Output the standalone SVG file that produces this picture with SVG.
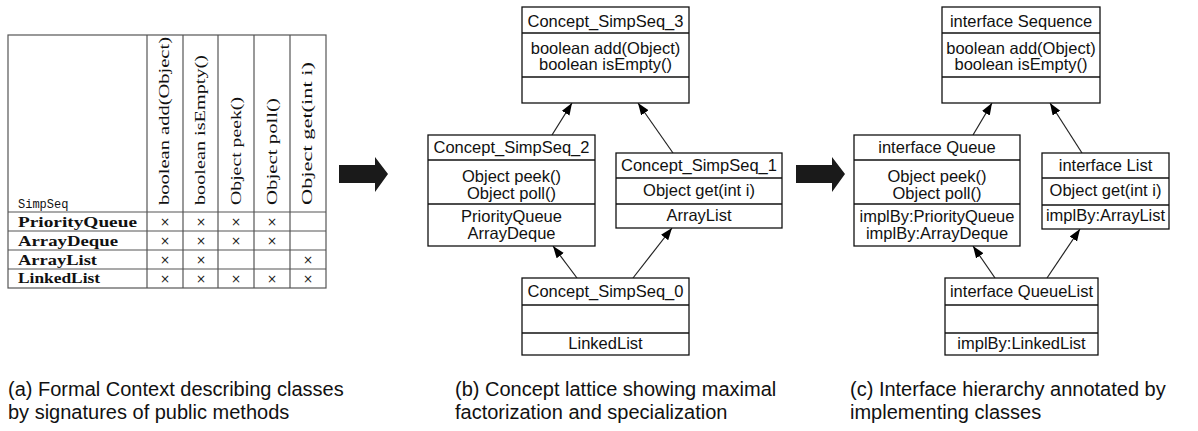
<svg xmlns="http://www.w3.org/2000/svg" width="1198" height="431" viewBox="0 0 1198 431">
<style>
.bg{fill:#fff}
.box{fill:#fff;stroke:#111;stroke-width:1.3}
.sep{stroke:#111;stroke-width:1.3}
.t{font-family:"Liberation Sans",Arial,sans-serif;font-size:16.5px;fill:#111;text-anchor:middle}
.grid{fill:none;stroke:#555;stroke-width:1.2}
.hdr{font-family:"Liberation Serif","Times New Roman",serif;font-size:15px;fill:#111}
.row{font-family:"Liberation Serif","Times New Roman",serif;font-size:15px;font-weight:bold;fill:#111}
.mono{font-family:"Liberation Mono","Courier New",monospace;font-size:12px;fill:#111}
.x{font-family:"DejaVu Sans",sans-serif;font-size:12px;fill:#222;text-anchor:middle}
.cap{font-family:"Liberation Sans",Arial,sans-serif;font-size:20px;fill:#111}
.conn{stroke:#222;stroke-width:1.2;fill:none;marker-end:url(#ah)}
.big{fill:#1a1a1a}
</style>
<defs>
<marker id="ah" markerUnits="userSpaceOnUse" markerWidth="13" markerHeight="10" refX="12" refY="4.5" orient="auto">
<path d="M0,0 L12,4.5 L0,9 z" fill="#000"/>
</marker>
</defs>
<rect class="bg" x="0" y="0" width="1198" height="431"/>

<g id="context-table">
<rect class="grid" x="8" y="35" width="318" height="253"/>
<line class="grid" x1="147" y1="35" x2="147" y2="288"/>
<line class="grid" x1="183" y1="35" x2="183" y2="288"/>
<line class="grid" x1="218" y1="35" x2="218" y2="288"/>
<line class="grid" x1="254" y1="35" x2="254" y2="288"/>
<line class="grid" x1="290" y1="35" x2="290" y2="288"/>
<line class="grid" x1="8" y1="212" x2="326" y2="212"/>
<line class="grid" x1="8" y1="231" x2="326" y2="231"/>
<line class="grid" x1="8" y1="250" x2="326" y2="250"/>
<line class="grid" x1="8" y1="269" x2="326" y2="269"/>
<text class="hdr" transform="translate(169,205) rotate(-90)" textLength="168" lengthAdjust="spacingAndGlyphs">boolean add(Object)</text>
<text class="hdr" transform="translate(205,205) rotate(-90)" textLength="150" lengthAdjust="spacingAndGlyphs">boolean isEmpty()</text>
<text class="hdr" transform="translate(240.5,205) rotate(-90)" textLength="108" lengthAdjust="spacingAndGlyphs">Object peek()</text>
<text class="hdr" transform="translate(276.5,205) rotate(-90)" textLength="107" lengthAdjust="spacingAndGlyphs">Object poll()</text>
<text class="hdr" transform="translate(312,205) rotate(-90)" textLength="143" lengthAdjust="spacingAndGlyphs">Object get(int i)</text>
<text class="mono" x="18" y="208">SimpSeq</text>
<text class="row" x="18" y="227" textLength="119" lengthAdjust="spacingAndGlyphs">PriorityQueue</text>
<text class="row" x="18" y="245.5" textLength="100" lengthAdjust="spacingAndGlyphs">ArrayDeque</text>
<text class="row" x="18" y="264.5" textLength="79" lengthAdjust="spacingAndGlyphs">ArrayList</text>
<text class="row" x="18" y="283" textLength="82" lengthAdjust="spacingAndGlyphs">LinkedList</text>
<text class="x" x="165" y="226">×</text><text class="x" x="201" y="226">×</text><text class="x" x="236" y="226">×</text><text class="x" x="272" y="226">×</text>
<text class="x" x="165" y="245">×</text><text class="x" x="201" y="245">×</text><text class="x" x="236" y="245">×</text><text class="x" x="272" y="245">×</text>
<text class="x" x="165" y="264">×</text><text class="x" x="201" y="264">×</text><text class="x" x="308" y="264">×</text>
<text class="x" x="165" y="283">×</text><text class="x" x="201" y="283">×</text><text class="x" x="236" y="283">×</text><text class="x" x="272" y="283">×</text><text class="x" x="308" y="283">×</text>
</g>

<g id="arrow-1"><polygon class="big" points="339,165 375,165 375,157 388,174 375,192 375,183 339,183"/></g>
<g id="arrow-2"><polygon class="big" points="796,165 832,165 832,157 845,174 832,192 832,183 796,183"/></g>

<g id="connectors">
<line class="conn" x1="552" y1="135" x2="572" y2="103"/>
<line class="conn" x1="673" y1="153" x2="638" y2="103"/>
<line class="conn" x1="577" y1="278" x2="553" y2="246"/>
<line class="conn" x1="633" y1="278" x2="672" y2="228"/>
<line class="conn" x1="973" y1="135" x2="992" y2="103"/>
<line class="conn" x1="1082" y1="153" x2="1050" y2="103"/>
<line class="conn" x1="995" y1="278" x2="973" y2="246"/>
<line class="conn" x1="1047" y1="278" x2="1080" y2="229"/>
</g>

<g id="concept-3">
<rect class="box" x="522" y="7" width="167" height="96"/>
<line class="sep" x1="522" y1="33" x2="689" y2="33"/>
<line class="sep" x1="522" y1="77" x2="689" y2="77"/>
<text class="t" x="605.5" y="27">Concept_SimpSeq_3</text>
<text class="t" x="605.5" y="54">boolean add(Object)</text>
<text class="t" x="605.5" y="70">boolean isEmpty()</text>
</g>
<g id="concept-2">
<rect class="box" x="428" y="135" width="167" height="111"/>
<line class="sep" x1="428" y1="160" x2="595" y2="160"/>
<line class="sep" x1="428" y1="204" x2="595" y2="204"/>
<text class="t" x="511.5" y="153">Concept_SimpSeq_2</text>
<text class="t" x="511.5" y="182">Object peek()</text>
<text class="t" x="511.5" y="198.5">Object poll()</text>
<text class="t" x="511.5" y="222">PriorityQueue</text>
<text class="t" x="511.5" y="238.5">ArrayDeque</text>
</g>
<g id="concept-1">
<rect class="box" x="616" y="153" width="166" height="75"/>
<line class="sep" x1="616" y1="178" x2="782" y2="178"/>
<line class="sep" x1="616" y1="204" x2="782" y2="204"/>
<text class="t" x="699" y="171">Concept_SimpSeq_1</text>
<text class="t" x="699" y="196">Object get(int i)</text>
<text class="t" x="699" y="221">ArrayList</text>
</g>
<g id="concept-0">
<rect class="box" x="522" y="278" width="167" height="77"/>
<line class="sep" x1="522" y1="305" x2="689" y2="305"/>
<line class="sep" x1="522" y1="333" x2="689" y2="333"/>
<text class="t" x="605.5" y="297">Concept_SimpSeq_0</text>
<text class="t" x="605.5" y="349">LinkedList</text>
</g>

<g id="iface-sequence">
<rect class="box" x="942" y="7" width="158" height="96"/>
<line class="sep" x1="942" y1="33" x2="1100" y2="33"/>
<line class="sep" x1="942" y1="77" x2="1100" y2="77"/>
<text class="t" x="1021" y="27">interface Sequence</text>
<text class="t" x="1021" y="54">boolean add(Object)</text>
<text class="t" x="1021" y="70">boolean isEmpty()</text>
</g>
<g id="iface-queue">
<rect class="box" x="854" y="135" width="166" height="111"/>
<line class="sep" x1="854" y1="160" x2="1020" y2="160"/>
<line class="sep" x1="854" y1="204" x2="1020" y2="204"/>
<text class="t" x="937" y="153">interface Queue</text>
<text class="t" x="937" y="182">Object peek()</text>
<text class="t" x="937" y="198.5">Object poll()</text>
<text class="t" x="937" y="222">implBy:PriorityQueue</text>
<text class="t" x="937" y="238.5">implBy:ArrayDeque</text>
</g>
<g id="iface-list">
<rect class="box" x="1042" y="153" width="127" height="76"/>
<line class="sep" x1="1042" y1="178" x2="1169" y2="178"/>
<line class="sep" x1="1042" y1="205" x2="1169" y2="205"/>
<text class="t" x="1105.5" y="171">interface List</text>
<text class="t" x="1105.5" y="196">Object get(int i)</text>
<text class="t" x="1105.5" y="221">implBy:ArrayList</text>
</g>
<g id="iface-queuelist">
<rect class="box" x="945" y="278" width="153" height="77"/>
<line class="sep" x1="945" y1="305" x2="1098" y2="305"/>
<line class="sep" x1="945" y1="333" x2="1098" y2="333"/>
<text class="t" x="1021.5" y="297">interface QueueList</text>
<text class="t" x="1021.5" y="349">implBy:LinkedList</text>
</g>

<g id="captions">
<text class="cap" x="8" y="396">(a) Formal Context describing classes</text>
<text class="cap" x="8" y="419">by signatures of public methods</text>
<text class="cap" x="455" y="396">(b) Concept lattice showing maximal</text>
<text class="cap" x="455" y="419">factorization and specialization</text>
<text class="cap" x="850" y="396">(c) Interface hierarchy annotated by</text>
<text class="cap" x="850" y="419">implementing classes</text>
</g>
</svg>
